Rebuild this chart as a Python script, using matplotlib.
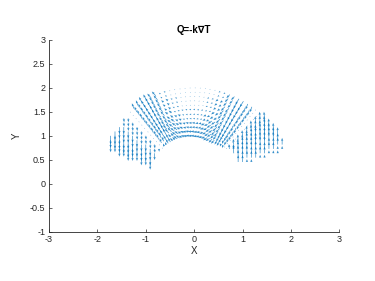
import numpy as np
import matplotlib
matplotlib.use("Agg")
import matplotlib.pyplot as plt

plt.rcParams['font.family'] = ['Liberation Sans', 'DejaVu Sans']

# ---- data ----
# angular / radial bins of the annular sector (degrees, radius)
theta_deg = [20.0, 25.9, 31.7, 37.6, 43.5, 49.3, 55.2, 61.1, 67.0, 72.8, 78.7, 84.6,
             90.4, 96.3, 102.2, 108.0, 113.9, 119.8, 125.7, 131.5, 137.4, 143.3, 149.1, 155.0]
radius = [1.00, 1.09, 1.18, 1.27, 1.36, 1.45, 1.55, 1.64, 1.73, 1.82, 1.91, 2.00]

# heat-flux heading (degrees) for each angular bin
heading_deg = [90, 90, 91, 92, 95, 200, 250, 238, 226, 214, 203, 191,
               179, 167, 156, 144, 132, 120, 112, 300, 275, 270, 270, 270]

# heat-flux magnitude, one row per angular bin, one digit per radial bin (units of 0.02)
flux_rows = [
    "333333333333",
    "777777777777",
    "888888999999",
    "888888899999",
    "556666677777",
    "111111111111",
    "345666666666",
    "456777777777",
    "556666666555",
    "555554433322",
    "444433222211",
    "443322211100",
    "443322211100",
    "443322211100",
    "444433222211",
    "555554433322",
    "446666666666",
    "557777777777",
    "356666666666",
    "111111111111",
    "344444444444",
    "777777777777",
    "888888999999",
    "888888888888",
]

# the two end lobes (angles below / above these) are sampled on a square grid
lobe_limits = [46.4, 134.4]

x_ticks = [-3, -2, -1, 0, 1, 2, 3]
x_tick_labels = ['-3', '-2', '-1', '0', '1', '2', '3']
y_ticks = [-1, -0.5, 0, 0.5, 1, 1.5, 2, 2.5, 3]
y_tick_labels = ['-1', '-0.5', '0', '0.5', '1', '1.5', '2', '2.5', '3']

# ---- sample points ----
# central part: polar grid, 3 degree spacing
samp_t = np.arange(lobe_limits[0] + 1.0, lobe_limits[1], 3.0)
T, R = np.meshgrid(samp_t, np.array(radius), indexing='ij')
px, py = (R * np.cos(np.deg2rad(T))).ravel(), (R * np.sin(np.deg2rad(T))).ravel()
# lobes: square grid clipped to the sector
step = 2.0 / 22
gx, gy = np.meshgrid(np.arange(-22, 23) * step, np.arange(0, 23) * step)
gr = np.hypot(gx, gy)
gt = np.degrees(np.arctan2(gy, gx))
lobe = (gr >= radius[0] - 1e-9) & (gr <= radius[-1] + 1e-9) & \
       (((gt >= theta_deg[0] - 1e-9) & (gt < lobe_limits[0])) |
        ((gt > lobe_limits[1]) & (gt <= theta_deg[-1] + 1e-9)))
X = np.concatenate([px, gx[lobe]])
Y = np.concatenate([py, gy[lobe]])

pr = np.hypot(X, Y)
pt = np.degrees(np.arctan2(Y, X))
ti = np.abs(pt[:, None] - np.array(theta_deg)[None, :]).argmin(axis=1)
ri = np.abs(pr[:, None] - np.array(radius)[None, :]).argmin(axis=1)

mag_table = np.array([[int(c) for c in row] for row in flux_rows]) * 0.02
hd_table = np.deg2rad(np.array(heading_deg, dtype=float))
mag = mag_table[ti, ri]
hd = hd_table[ti]
U = mag * np.cos(hd)
V = mag * np.sin(hd)

fig = plt.figure(figsize=(3.75, 2.81), dpi=100)
ax = fig.add_axes([0.1307, 0.1754, 0.7741, 0.6823])
ax.quiver(X, Y, U, V, angles='xy', scale_units='xy', scale=1, pivot='tail',
          color='#0072BD', width=0.0023, headwidth=3.5, headlength=4.5,
          headaxislength=4, alpha=0.8)

ax.set_xlim(-3, 3)
ax.set_ylim(-1, 3)
ax.set_xticks(x_ticks)
ax.set_xticklabels(x_tick_labels)
ax.set_yticks(y_ticks)
ax.set_yticklabels(y_tick_labels)
for s in ['top', 'right']:
    ax.spines[s].set_visible(False)
for s in ['left', 'bottom']:
    ax.spines[s].set_color('#262626')
    ax.spines[s].set_linewidth(0.6)
ax.tick_params(direction='in', length=2.2, width=0.5, colors='#262626',
               labelsize=6.5, pad=2.5)
ax.set_xlabel('X', fontsize=7, color='#262626', labelpad=1)
ax.set_ylabel('Y', fontsize=7, color='#262626', labelpad=6)
ax.set_title('Q=-k\u2207T', fontsize=7, fontweight='bold', color='black', pad=5)

fig.savefig('out.png', dpi=100)
